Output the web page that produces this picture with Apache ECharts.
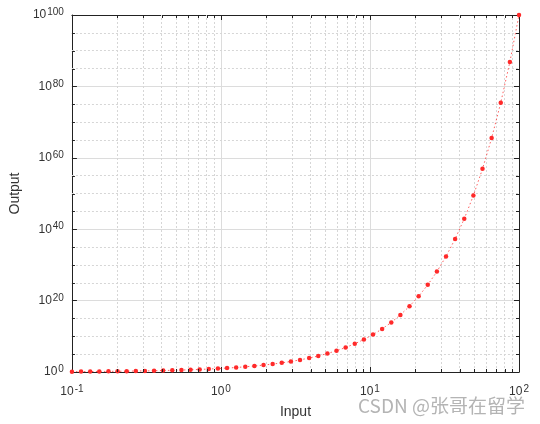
<!DOCTYPE html>
<html><head><meta charset="utf-8">
<script src="https://cdn.jsdelivr.net/npm/echarts@6/dist/echarts.min.js"></script>
<style>html,body{margin:0;padding:0;background:#fff}#c{width:540px;height:424px}</style>
</head><body><div id="c"></div>
<script>
const inputValues = [0.1000,0.1151,0.1326,0.1526,0.1758,0.2024,0.2330,0.2683,0.3089,0.3556,
  0.4095,0.4715,0.5429,0.6251,0.7197,0.8286,0.9541,1.0985,1.2649,1.4563,
  1.6768,1.9307,2.2230,2.5595,2.9471,3.3932,3.9069,4.4984,5.1795,5.9636,
  6.8665,7.9060,9.1030,10.481,12.068,13.895,15.999,18.421,21.210,24.421,
  28.118,32.375,37.276,42.919,49.417,56.899,65.513,75.431,86.851,100];
const outputValues = [1.259,1.304,1.357,1.421,1.499,1.594,1.710,1.854,2.037,2.268,
  2.567,2.961,3.491,4.218,5.245,6.741,8.998,12.55,18.41,28.60,
  47.51,85.23,167.1,362.7,885.1,2473,8071,3.15e4,1.51e5,9.20e5,
  7.35e6,8.05e7,1.27e9,3.03e10,1.17e12,7.85e13,9.97e15,2.63e18,1.62e21,2.63e24,
  1.31e28,2.37e32,1.89e37,8.30e42,2.61e49,7.92e56,3.26e65,2.70e75,7.10e86,1e100];
const xTickLabels = ['-1','0','1','2'];
const yTickLabels = ['0','20','40','60','80','100'];
const xMinorGrid = [0.2,0.3,0.4,0.5,0.6,0.7,0.8,0.9,2,3,4,5,6,7,8,9,20,30,40,50,60,70,80,90];
const yMinorGrid = [1e5,1e10,1e15,1e25,1e30,1e35,1e45,1e50,1e55,1e65,1e70,1e75,1e85,1e90,1e95];
const watermark = 'CSDN @张哥在留学';

const FONT = 'Liberation Sans';
const expOf = v => String(Math.round(Math.log10(v)));
const rich = {
  b: {fontSize: 12, color: '#333', fontFamily: FONT},
  s: {fontSize: 10, color: '#333', fontFamily: FONT, verticalAlign: 'bottom', padding: [0,0,5,1]}
};
const chart = echarts.init(document.getElementById('c'), null, {renderer: 'canvas'});
const pts = inputValues.map((x, i) => [x, outputValues[i]]);
const minorX = xMinorGrid.map(v => ({xAxis: v}));
const minorY = yMinorGrid.map(v => ({yAxis: v}));
const axisCommon = {
  axisLine: {show: true, lineStyle: {color: '#222', width: 1}},
  axisTick: {show: true, inside: true, length: 5, lineStyle: {color: '#222'}}
};
chart.setOption({
  animation: false,
  grid: {left: 68, right: 21, top: 15, bottom: 52, containLabel: false},
  xAxis: [Object.assign({
    type: 'log', logBase: 10, min: 0.1, max: 100,
    name: 'Input', nameLocation: 'middle', nameGap: 33,
    nameTextStyle: {fontSize: 14, color: '#333', fontFamily: FONT},
    axisLabel: {margin: 12, formatter: v => '{b|10}{s|' + expOf(v) + '}', rich: rich},
    splitLine: {show: true, lineStyle: {color: '#dcdcdc', width: 1}}
  }, axisCommon), Object.assign({
    type: 'log', logBase: 10, min: 0.1, max: 100, position: 'top',
    axisLabel: {show: false}, splitLine: {show: false}
  }, axisCommon)],
  yAxis: [Object.assign({
    type: 'log', logBase: 10, min: 1, max: 1e100, interval: 20,
    name: 'Output', nameLocation: 'middle', nameGap: 47, nameRotate: 90,
    nameTextStyle: {fontSize: 14, color: '#333', fontFamily: FONT},
    axisLabel: {margin: 8, formatter: v => '{b|10}{s|' + expOf(v) + '}', rich: rich},
    splitLine: {show: true, lineStyle: {color: '#dcdcdc', width: 1}}
  }, axisCommon), Object.assign({
    type: 'log', logBase: 10, min: 1, max: 1e100, interval: 20, position: 'right',
    axisLabel: {show: false}, splitLine: {show: false}
  }, axisCommon)],
  series: [{
    type: 'line', xAxisIndex: 0, yAxisIndex: 0, data: pts,
    symbol: 'circle', symbolSize: 4.5, showSymbol: true,
    itemStyle: {color: '#ff2a2a'},
    lineStyle: {color: 'rgba(255,40,40,0.75)', width: 1, type: [1.5, 2.5]},
    z: 5,
    markLine: {
      silent: true, symbol: 'none', label: {show: false},
      lineStyle: {color: '#d6d6d6', width: 1, type: [2, 2]},
      data: minorX.concat(minorY)
    }
  }]
});

// minor ticks on all four sides, positioned through the axes' scales
const gfx = [];
const L = chart.convertToPixel({xAxisIndex: 0}, 0.1);
const R = chart.convertToPixel({xAxisIndex: 0}, 100);
const B = chart.convertToPixel({yAxisIndex: 0}, 1);
const T = chart.convertToPixel({yAxisIndex: 0}, 1e100);
const tickStyle = {stroke: '#222', lineWidth: 1};
const mlen = 3;
xMinorGrid.forEach(v => {
  const p = Math.round(chart.convertToPixel({xAxisIndex: 0}, v)) + 0.5;
  gfx.push({type: 'line', silent: true, z: 10, shape: {x1: p, y1: B, x2: p, y2: B - mlen}, style: tickStyle});
  gfx.push({type: 'line', silent: true, z: 10, shape: {x1: p, y1: T, x2: p, y2: T + mlen}, style: tickStyle});
});
yMinorGrid.forEach(v => {
  const p = Math.round(chart.convertToPixel({yAxisIndex: 0}, v)) + 0.5;
  gfx.push({type: 'line', silent: true, z: 10, shape: {x1: L, y1: p, x2: L + mlen, y2: p}, style: tickStyle});
  gfx.push({type: 'line', silent: true, z: 10, shape: {x1: R, y1: p, x2: R - mlen, y2: p}, style: tickStyle});
});
gfx.push({
  type: 'text', left: 358, top: 396, silent: true,
  style: {text: watermark, fontSize: 19, fill: '#b4b4b4', fontFamily: 'Noto Sans CJK SC'}
});
chart.setOption({graphic: gfx});
</script></body></html>
